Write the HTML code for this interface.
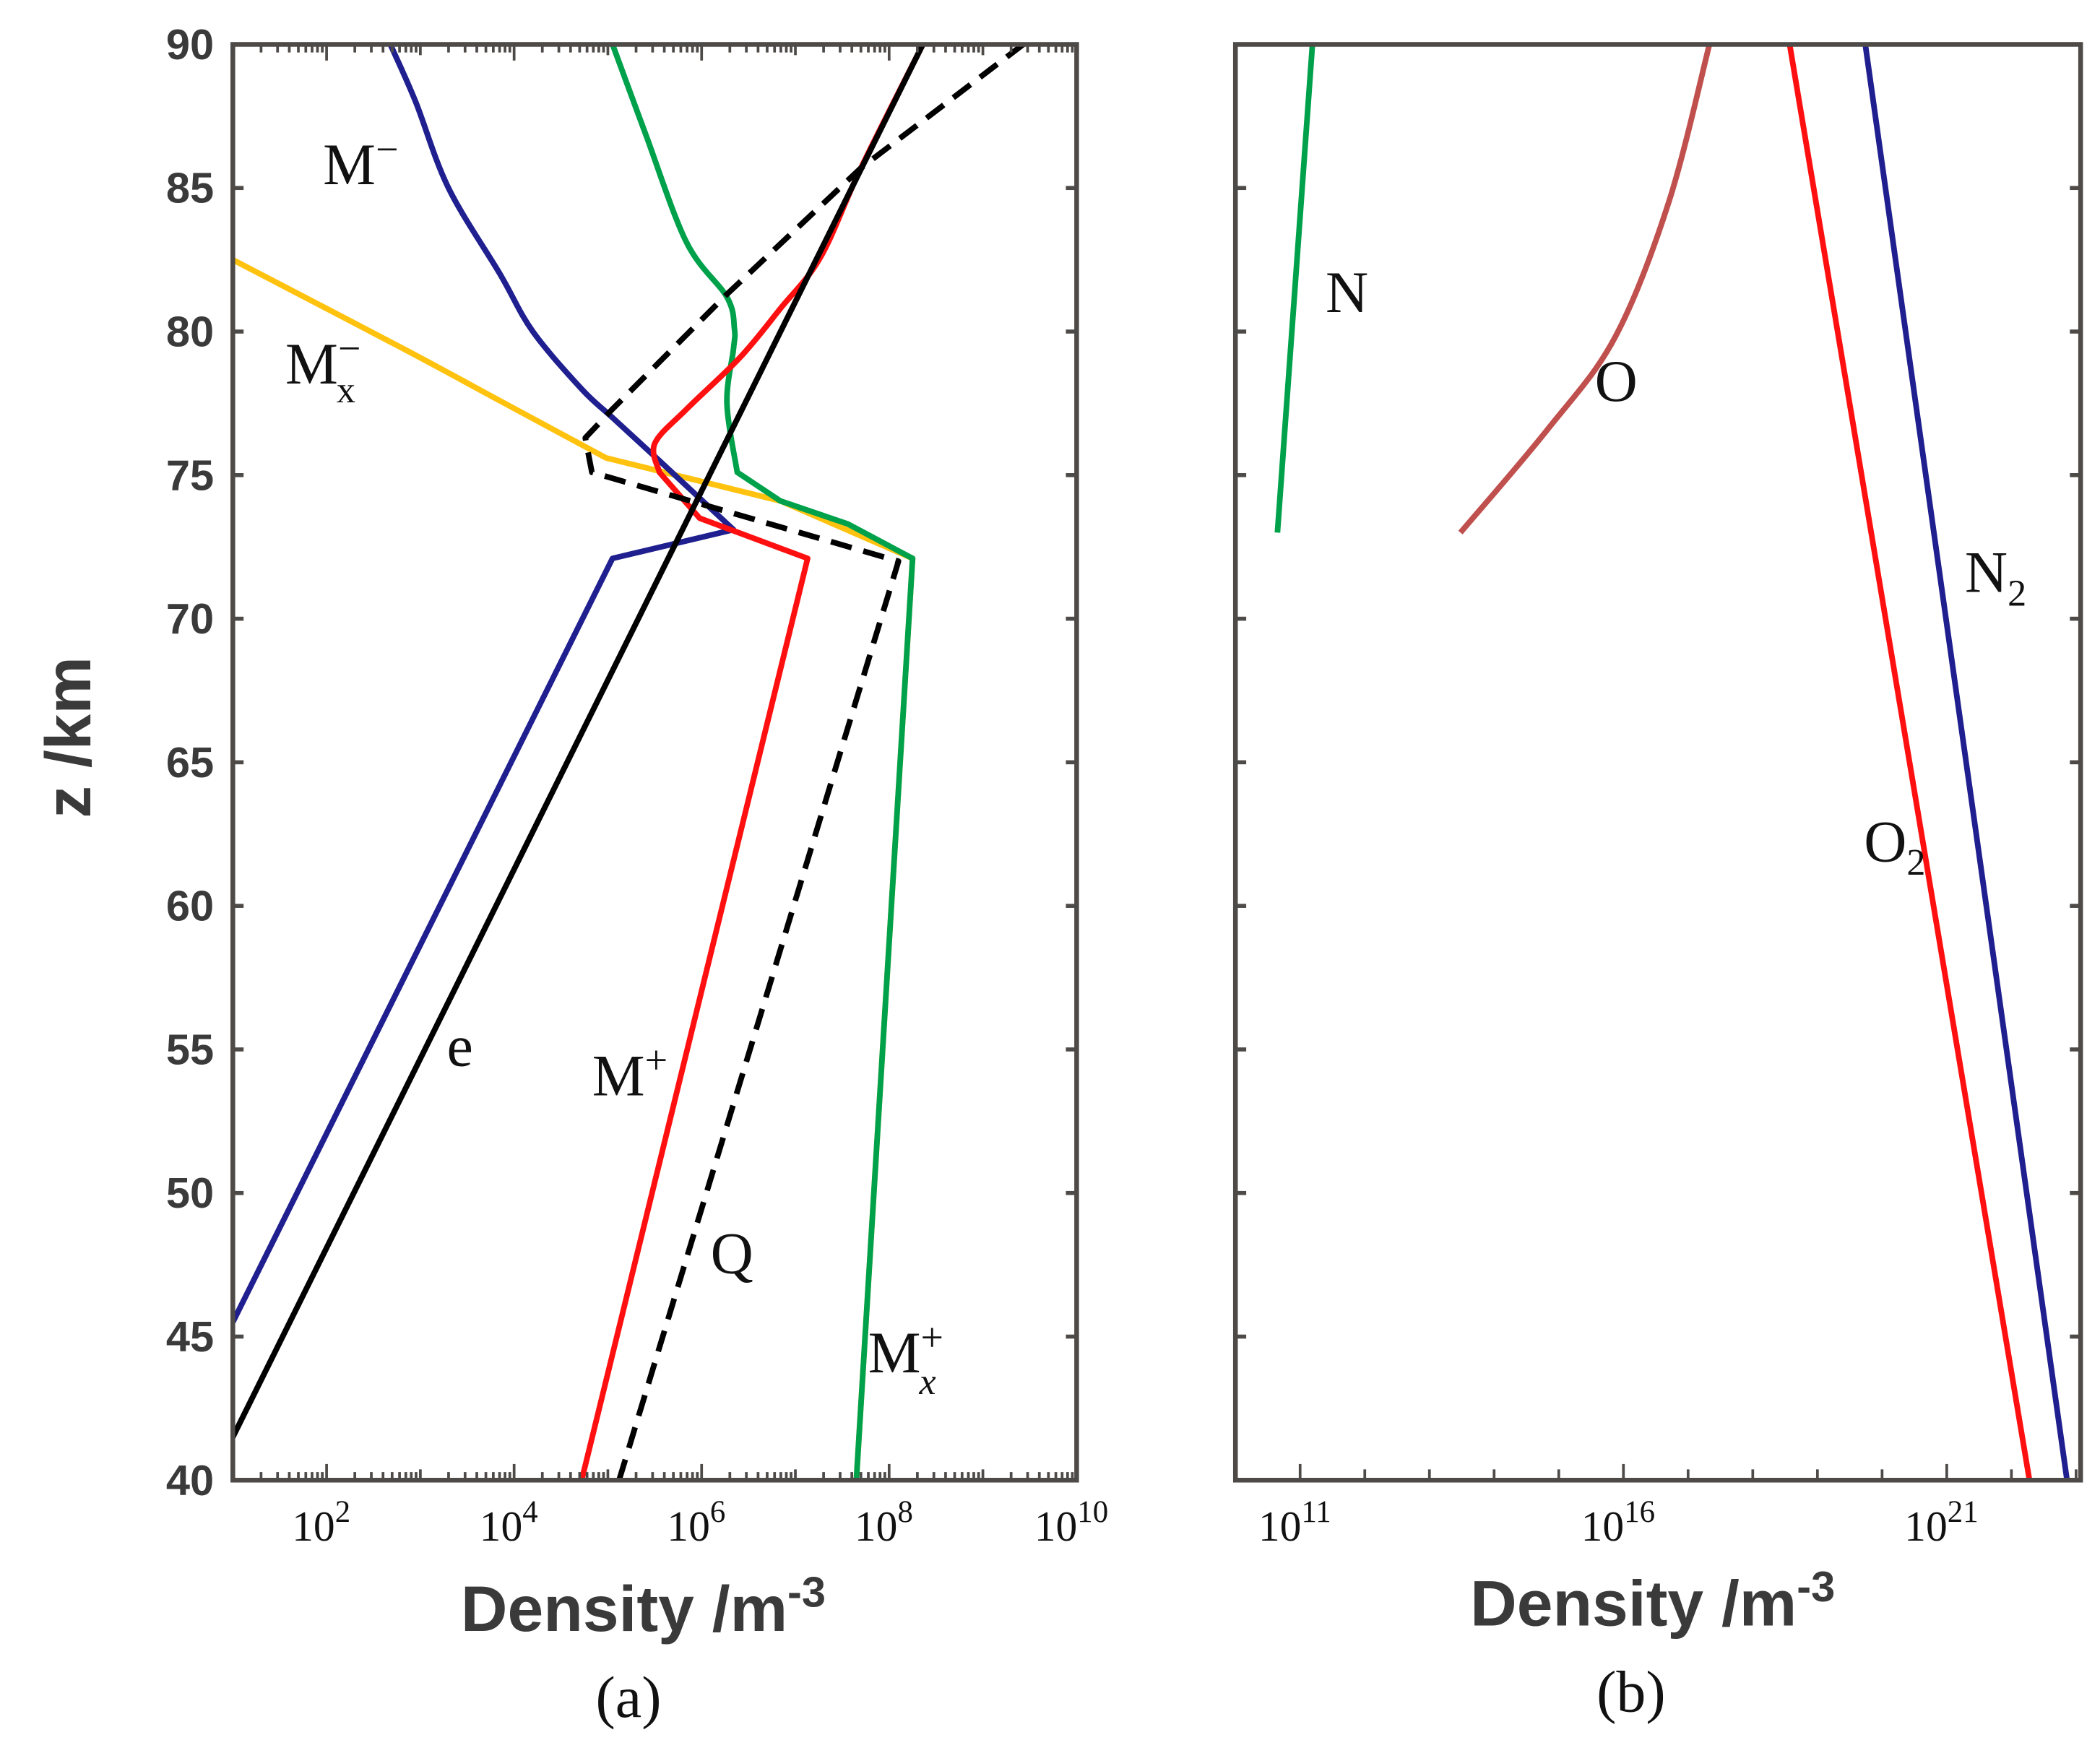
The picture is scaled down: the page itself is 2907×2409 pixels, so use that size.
<!DOCTYPE html>
<html><head><meta charset="utf-8"><style>
html,body{margin:0;padding:0;background:#fff;}
svg{display:block}
.tick{font-family:"Liberation Sans Narrow","Liberation Sans",sans-serif;font-size:32px;font-weight:bold;fill:#3a3a3a}
.pw{font-family:"Liberation Serif",serif;font-size:32px;fill:#111}
.lab{font-family:"Liberation Serif",serif;font-size:44px;fill:#111}
.ttl{font-family:"Liberation Sans Narrow","Liberation Sans",sans-serif;font-size:48px;font-weight:bold;fill:#3a3a3a}
</style></head><body>
<svg id="chart" xmlns="http://www.w3.org/2000/svg" width="2907" height="2409" viewBox="0 0 1560.4 1293.1">
<g id="ga"></g>
<g id="gb"></g>
<text class="ttl" x="0" y="0" transform="translate(67,548) rotate(-90)" text-anchor="middle">z  /km</text>
<text class="ttl" x="478" y="1212" text-anchor="middle">Density  /m<tspan dy="-18" font-size="32">-3</tspan></text>
<text class="ttl" x="1228" y="1208" text-anchor="middle">Density  /m<tspan dy="-18" font-size="32">-3</tspan></text>
<text class="lab" x="467" y="1276" text-anchor="middle">(a)</text>
<text class="lab" x="1212" y="1272" text-anchor="middle">(b)</text>
<text class="lab" x="240" y="137">M<tspan dy="-16" font-size="30">−</tspan></text>
<text class="lab" x="212" y="285">M<tspan dy="-16" font-size="30">−</tspan><tspan dx="-18" dy="30" font-size="28">x</tspan></text>
<text class="lab" x="332" y="792">e</text>
<text class="lab" x="440" y="814">M<tspan dy="-16" font-size="30">+</tspan></text>
<text class="lab" x="528" y="946">Q</text>
<text class="lab" x="645" y="1020">M<tspan dy="-16" font-size="30">+</tspan><tspan dx="-18" dy="32" font-size="28" font-style="italic">x</tspan></text>
<text class="lab" x="985" y="232">N</text>
<text class="lab" x="1185" y="298">O</text>
<text class="lab" x="1460" y="440">N<tspan dy="10" font-size="28">2</tspan></text>
<text class="lab" x="1385" y="640">O<tspan dy="10" font-size="28">2</tspan></text>
</svg>
<script>
// Panel a data: [log10 density, altitude km]
const zA_e = [41.5, 90];
const xA_e = [1, 8.36];
const zA_Mminus = [45.5, 72.1, 73.1, 75.5, 77, 78, 80, 82, 85, 88, 90];
const xA_Mminus = [1, 5.05, 6.34, 5.55, 5.05, 4.72, 4.2, 3.85, 3.3, 2.95, 2.68];
const zA_Mplus = [40, 72.1, 73.5, 75.1, 76.1, 77.3, 79.1, 80.8, 82.6, 85.7, 90];
const xA_Mplus = [4.72, 7.13, 5.98, 5.55, 5.5, 5.84, 6.41, 6.84, 7.27, 7.7, 8.36];
const zA_Q = [40, 72, 75.1, 76.3, 77.3, 81.3, 85.7, 90];
const xA_Q = [5.12, 8.1, 4.83, 4.76, 5.05, 6.27, 7.7, 9.43];
const zA_Mxminus = [40, 72.1, 74.1, 75.6, 77.5, 79.4, 82.5];
const xA_Mxminus = [7.65, 8.25, 6.84, 4.98, 3.9, 2.82, 1];
const zA_Mxplus = [40, 72.1, 73.3, 74.1, 75.1, 77.5, 79.4, 80.1, 81.2, 83.1, 86.9, 90];
const xA_Mxplus = [7.65, 8.25, 7.56, 6.84, 6.38, 6.27, 6.34, 6.35, 6.27, 5.84, 5.4, 5.05];
// Panel b data
const zB_N = [73, 90];  const xB_N = [10.65, 11.19];
const zB_O = [73, 76.6, 79.8, 84.5, 90]; const xB_O = [13.48, 14.83, 15.87, 16.7, 17.33];
const zB_O2 = [40, 90]; const xB_O2 = [22.28, 18.57];
const zB_N2 = [40, 90]; const xB_N2 = [22.86, 19.74];
const yTicks = [40,45,50,55,60,65,70,75,80,85,90];
const xTicksA = [2,4,6,8,10];
const xTicksB = [11,16,21];

const NS="http://www.w3.org/2000/svg";
const Y0=1100,Y1=33;
function yS(z){return Y0+(z-40)/50*(Y1-Y0);}
function mkX(l,r,a,b){return v=>l+(v-a)/(b-a)*(r-l);}
const xa=mkX(173,800,1,10), xb=mkX(918,1546,10,23.07);
function el(p,t,at){const e=document.createElementNS(NS,t);for(const k in at)e.setAttribute(k,at[k]);p.appendChild(e);return e;}
const ga=document.getElementById('ga'), gb=document.getElementById('gb');
function line(g,xs,zs,sx,col,name,dash,smoothFrom){
  const P=xs.map((v,i)=>[sx(v),yS(zs[i])]);
  let d='M'+P[0][0].toFixed(1)+','+P[0][1].toFixed(1);
  for(let i=1;i<P.length;i++){
    if(smoothFrom!==undefined && i-1>=smoothFrom){
      const p0=P[Math.max(i-2,smoothFrom)],p1=P[i-1],p2=P[i],p3=P[Math.min(i+1,P.length-1)];
      const c1=[p1[0]+(p2[0]-p0[0])/6,p1[1]+(p2[1]-p0[1])/6];
      const c2=[p2[0]-(p3[0]-p1[0])/6,p2[1]-(p3[1]-p1[1])/6];
      d+='C'+c1.join(',')+' '+c2.join(',')+' '+p2.join(',');
    } else d+='L'+P[i][0].toFixed(1)+','+P[i][1].toFixed(1);
  }
  const p=el(g,'path',{d:d,fill:'none',stroke:col,'stroke-width':4.2,'stroke-linejoin':'round'});
  if(dash)p.setAttribute('stroke-dasharray',dash);
  
  
}
line(ga,xA_Mxminus,zA_Mxminus,xa,'#ffc20e','line-mx-minus',null,3);
line(ga,xA_Mxplus,zA_Mxplus,xa,'#00a14b','line-mx-plus',null,4);
line(ga,xA_Mminus,zA_Mminus,xa,'#1f1f8f','line-m-minus',null,3);
line(ga,xA_Mplus,zA_Mplus,xa,'#ff1010','line-m-plus',null,3);
line(ga,xA_e,zA_e,xa,'#000','line-e');
line(ga,xA_Q,zA_Q,xa,'#000','line-q','16,9');
line(gb,xB_N,zB_N,xb,'#00a14b','line-n');
line(gb,xB_O,zB_O,xb,'#c0504d','line-o',null,0);
line(gb,xB_O2,zB_O2,xb,'#ff1010','line-o2');
line(gb,xB_N2,zB_N2,xb,'#1f1f8f','line-n2');

function axes(g,l,r,sx,lo,hi,labels,allTop,nm,logMinor){
  const fr=el(g,'rect',{x:l,y:Y1,width:r-l,height:Y0-Y1,fill:'none',stroke:'#4d4a48','stroke-width':3.5});
  
  
  yTicks.forEach(z=>{
    const y=yS(z);
    el(g,'line',{x1:l,x2:l+8,y1:y,y2:y,stroke:'#4d4a48','stroke-width':3});
    el(g,'line',{x1:r,x2:r-8,y1:y,y2:y,stroke:'#4d4a48','stroke-width':3});
    if(nm==='panel-a'){
      const t=el(g,'text',{x:l-14,y:y+11,'text-anchor':'end',class:'tick'});
      t.textContent=z;
      
      
    }
  });
  for(let d=Math.ceil(lo);d<hi;d++){
    const ms=logMinor?[1,2,3,4,5,6,7,8,9]:[1];
    ms.forEach(m=>{
      const v=d+Math.log10(m); if(v<lo||v>hi)return;
      const X=sx(v), len=m===1?(labels.includes(d)?12:8):6;
      el(g,'line',{x1:X,x2:X,y1:Y0,y2:Y0-len,stroke:'#4d4a48','stroke-width':2});
      if(allTop)el(g,'line',{x1:X,x2:X,y1:Y1,y2:Y1+len,stroke:'#4d4a48','stroke-width':2});
    });
  }
  labels.forEach(p=>{
    const t=el(g,'text',{x:sx(p)-4,y:Y0+45,'text-anchor':'middle',class:'pw'});
    t.textContent='10';
    const s=el(t,'tspan',{dy:-14,'font-size':23});
    s.textContent=String(p);
    
    
  });
}
axes(ga,173,800,xa,1,10,xTicksA,true,'panel-a',true);
axes(gb,918,1546,xb,10,23.07,xTicksB,false,'panel-b',false);
</script>
</body></html>
